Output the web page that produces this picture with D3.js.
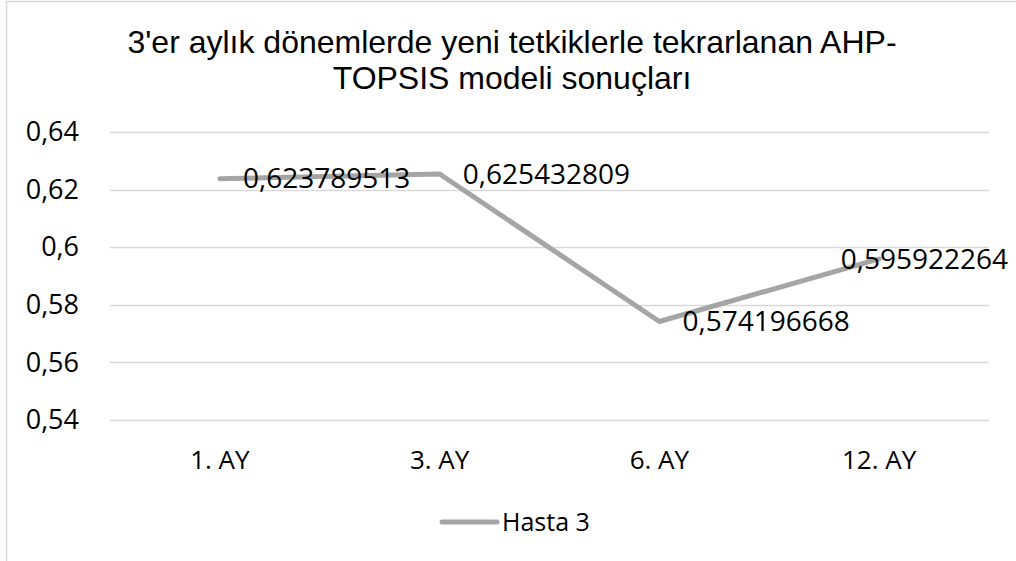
<!DOCTYPE html>
<html>
  <head>
    <meta charset="utf-8" />
    <script src="https://d3js.org/d3.v7.min.js"></script>
    <style>
      body { margin: 0; background: white; }
      svg { display: block; }
    </style>
  </head>
  <body>
    <svg id="canvas" width="1016" height="561"></svg>
    <script>
      // data
      const categories = ["1. AY", "3. AY", "6. AY", "12. AY"];
      const values = [0.623789513, 0.625432809, 0.574196668, 0.595922264];
      const yTicks = [0.54, 0.56, 0.58, 0.6, 0.62, 0.64];
      const titleLines = [
        "3'er aylık dönemlerde yeni tetkiklerle tekrarlanan AHP-",
        "TOPSIS modeli sonuçları",
      ];
      const seriesName = "Hasta 3";

      const svg = d3.select("#canvas");
      const lineColor = "#a5a5a5";
      const gridColor = "#d9d9d9";
      const labelFont = "'Open Sans', sans-serif";

      // chart border (cropped at right and bottom)
      svg.append("rect")
        .attr("x", 6.5).attr("y", 1.5)
        .attr("width", 1100).attr("height", 700)
        .attr("fill", "none")
        .attr("stroke", gridColor)
        .attr("stroke-width", 1.5);

      const plot = { left: 110, right: 989, top: 132, bottom: 420 };

      const x = d3.scaleBand()
        .domain(categories)
        .range([plot.left, plot.right]);

      const y = d3.scaleLinear()
        .domain([0.54, 0.64])
        .range([plot.bottom, plot.top]);

      // title
      svg.append("text")
        .attr("x", 512)
        .attr("y", 53)
        .attr("text-anchor", "middle")
        .style("font-family", "'Liberation Sans', Arial, sans-serif")
        .style("font-size", "32px")
        .style("fill", "#000")
        .selectAll("tspan")
        .data(titleLines)
        .join("tspan")
        .attr("x", 512)
        .attr("dy", (d, i) => (i === 0 ? 0 : 36))
        .text((d) => d);

      // gridlines
      svg.append("g")
        .selectAll("line")
        .data(yTicks)
        .join("line")
        .attr("x1", plot.left)
        .attr("x2", plot.right)
        .attr("y1", (d) => Math.round(y(d)) + 0.5)
        .attr("y2", (d) => Math.round(y(d)) + 0.5)
        .attr("stroke", gridColor)
        .attr("stroke-width", 1.5);

      // y axis labels
      const yAxis = d3.axisLeft(y)
        .tickValues(yTicks)
        .tickSize(0)
        .tickPadding(0)
        .tickFormat((d) => d3.format("")(+d.toFixed(2)).replace(".", ","));
      const yG = svg.append("g")
        .attr("transform", "translate(79,0)")
        .call(yAxis);
      yG.select(".domain").remove();
      yG.selectAll("text")
        .style("font-family", labelFont)
        .style("font-size", "27px")
        .style("fill", "#000");

      // x axis labels
      const xAxis = d3.axisBottom(x).tickSize(0).tickPadding(0);
      const xG = svg.append("g")
        .attr("transform", "translate(0,451)")
        .call(xAxis);
      xG.select(".domain").remove();
      xG.selectAll("text")
        .style("font-family", labelFont)
        .style("font-size", "26px")
        .style("fill", "#000");

      const points = categories.map((c, i) => ({ cat: c, value: values[i] }));

      const line = d3.line()
        .x((d) => x(d.cat) + x.bandwidth() / 2)
        .y((d) => y(d.value));

      svg.append("path")
        .datum(points)
        .attr("d", line)
        .attr("fill", "none")
        .attr("stroke", lineColor)
        .attr("stroke-width", 5)
        .attr("stroke-linecap", "round")
        .attr("stroke-linejoin", "round");

      // data labels, right of point, kept inside the chart
      svg.append("g")
        .selectAll("text")
        .data(points)
        .join("text")
        .attr("x", (d) => x(d.cat) + x.bandwidth() / 2 + 23)
        .attr("y", (d) => y(d.value))
        .attr("dy", "0.35em")
        .style("font-family", labelFont)
        .style("font-size", "28px")
        .style("fill", "#000")
        .text((d) => String(d.value).replace(".", ","))
        .each(function () {
          const w = this.getComputedTextLength();
          const xs = +this.getAttribute("x");
          if (xs + w > 1008) this.setAttribute("x", 1008 - w);
        });

      // legend
      const legend = svg.append("g").attr("transform", "translate(442,522)");
      legend.append("line")
        .attr("x1", 0).attr("x2", 55)
        .attr("stroke", lineColor)
        .attr("stroke-width", 5)
        .attr("stroke-linecap", "round");
      legend.append("text")
        .attr("x", 60)
        .attr("dy", "0.35em")
        .style("font-family", labelFont)
        .style("font-size", "25px")
        .style("fill", "#000")
        .text(seriesName);
    </script>
  </body>
</html>
